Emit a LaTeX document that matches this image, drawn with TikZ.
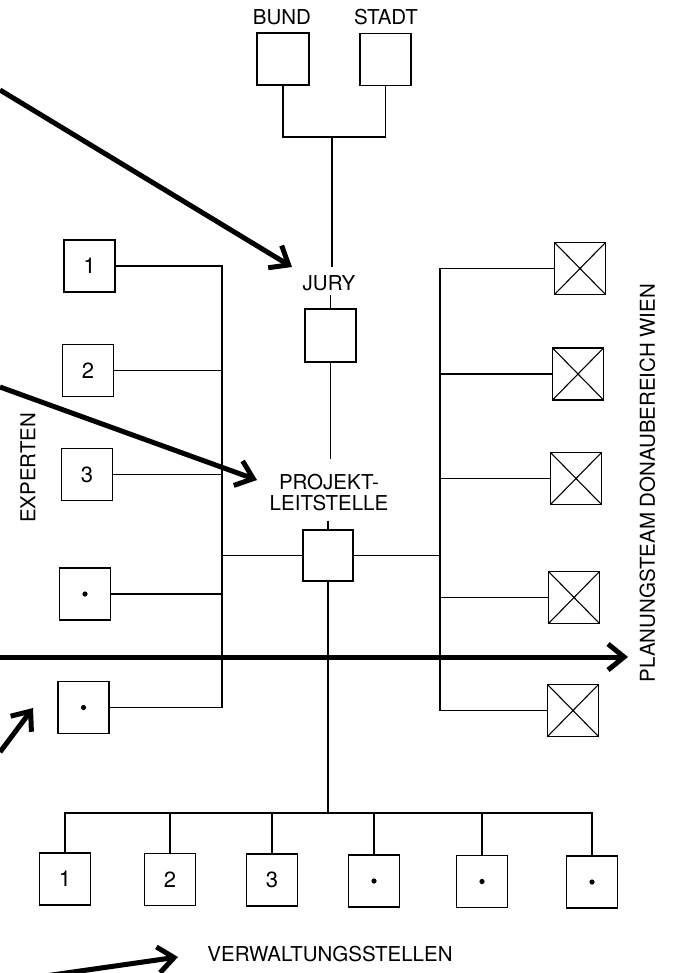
\documentclass[tikz,border=0pt]{standalone}
\usepackage{fontspec}
\setmainfont{TeX Gyre Heros}
\usetikzlibrary{arrows.meta}
\begin{document}
\begin{tikzpicture}[x=1pt,y=-1pt,
  box/.style={draw, line width=1.4pt, minimum width=51pt, minimum height=52pt, inner sep=0pt, font=\fontsize{22}{24}\selectfont},
  xbox/.style={box, path picture={\draw[line width=1.1pt] (path picture bounding box.north west) -- (path picture bounding box.south east) (path picture bounding box.north east) -- (path picture bounding box.south west);}},
  lbl/.style={inner sep=0pt, font=\fontsize{20.5}{21}\selectfont},
  conn/.style={line width=1.3pt},
  bigarrow/.style={line width=5pt, -{Straight Barb[length=16pt,width=26pt]}},
  dot/.style={fill=black}
]
\useasboundingbox[fill=white] (0,0) rectangle (673,973);

% top
\node[lbl] (bundl) at (282,17.5) {BUND};
\node[lbl] (stadtl) at (386,17.5) {STADT};
\node[box, minimum width=52pt] (bund) at (283,59) {};
\node[box] (stadt) at (385.5,59.5) {};
\coordinate (jtop) at (332,137);
\draw[conn] (bund.south) |- (jtop) -| (stadt.south);
\node[lbl] (jurylbl) at (329,283) {JURY};
\node[box, minimum height=53pt] (jury) at (330.5,335.5) {};
\draw[conn, shorten >=8.5pt] (jtop) -- (jtop |- jurylbl.north);
\draw[conn, shorten <=4.5pt] (jurylbl.south -| jury.north) -- (jury.north);

\node[lbl, align=center] (pllbl) at (329,492.5) {PROJEKT-\\LEITSTELLE};
\node[box, minimum width=50pt, minimum height=51pt] (pl) at (328,555.5) {};
\draw[conn, shorten >=14.5pt] (jury.south) -- (jury.south |- pllbl.north);
\draw[conn, shorten <=9.5pt] (pllbl.south -| pl.north) -- (pl.north);

% experts
\node[box] (e1) at (89.5,266) {1};
\node[box] (e2) at (88,370.5) {2};
\node[box] (e3) at (87,474.5) {3};
\node[box] (e4) at (85,594) {};
\node[box] (e5) at (83.5,707.5) {};
\fill[dot] (e4.center) circle[radius=2.6];
\fill[dot] (e5.center) circle[radius=2.6];
\coordinate (lx) at (222,0);
\draw[conn] (e1.east) -- (e1.east -| lx) -- (e5.east -| lx) -- (e5.east);
\draw[conn] (e2.east) -- (e2.east -| lx);
\draw[conn] (e3.east) -- (e3.east -| lx);
\draw[conn] (e4.east) -- (e4.east -| lx);
\draw[conn] (pl.west) -- (pl.west -| lx);
\node[lbl, rotate=90] (experten) at (28,468) {EXPERTEN};

% planning team
\node[xbox] (r1) at (580,268.5) {};
\node[xbox] (r2) at (578,374) {};
\node[xbox] (r3) at (576,478.5) {};
\node[xbox] (r4) at (574,597.5) {};
\node[xbox] (r5) at (573,710.5) {};
\coordinate (rx) at (440,0);
\draw[conn] (r1.west) -- (r1.west -| rx) -- (r5.west -| rx) -- (r5.west);
\draw[conn] (r2.west) -- (r2.west -| rx);
\draw[conn] (r3.west) -- (r3.west -| rx);
\draw[conn] (r4.west) -- (r4.west -| rx);
\draw[conn] (pl.east) -- (pl.east -| rx);
\node[lbl, rotate=90] (team) at (647.5,483) {PLANUNGSTEAM DONAUBEREICH WIEN};

% administration
\node[box] (b1) at (65,879) {1};
\node[box] (b2) at (170,879.5) {2};
\node[box] (b3) at (272,880) {3};
\node[box] (b4) at (374,881) {};
\node[box] (b5) at (482,881.5) {};
\node[box] (b6) at (592,882) {};
\fill[dot] (b4.center) circle[radius=2.6];
\fill[dot] (b5.center) circle[radius=2.6];
\fill[dot] (b6.center) circle[radius=2.6];
\coordinate (bus) at (0,813);
\draw[conn] (pl.south) -- (pl.south |- bus);
\draw[conn] (b1.north) -- (b1.north |- bus) -- (b6.north |- bus) -- (b6.north);
\draw[conn] (b2.north) -- (b2.north |- bus);
\draw[conn] (b3.north) -- (b3.north |- bus);
\draw[conn] (b4.north) -- (b4.north |- bus);
\draw[conn] (b5.north) -- (b5.north |- bus);
\node[lbl] (verw) at (330,954) {VERWALTUNGSSTELLEN};

% big arrows
\coordinate (a1s) at (0,90);   \coordinate (a1e) at (292,267);
\coordinate (a2s) at (0,387);  \coordinate (a2e) at (257,480);
\coordinate (a3s) at (0,657);  \coordinate (a3e) at (628,657);
\coordinate (a4s) at (0,752);  \coordinate (a4e) at (33,708);
\coordinate (a5s) at (45,976); \coordinate (a5e) at (178,957);
\draw[bigarrow] (a1s) -- (a1e);
\draw[bigarrow] (a2s) -- (a2e);
\draw[bigarrow] (a3s) -- (a3e);
\draw[bigarrow] (a4s) -- (a4e);
\draw[bigarrow] (a5s) -- (a5e);
\end{tikzpicture}
\end{document}
